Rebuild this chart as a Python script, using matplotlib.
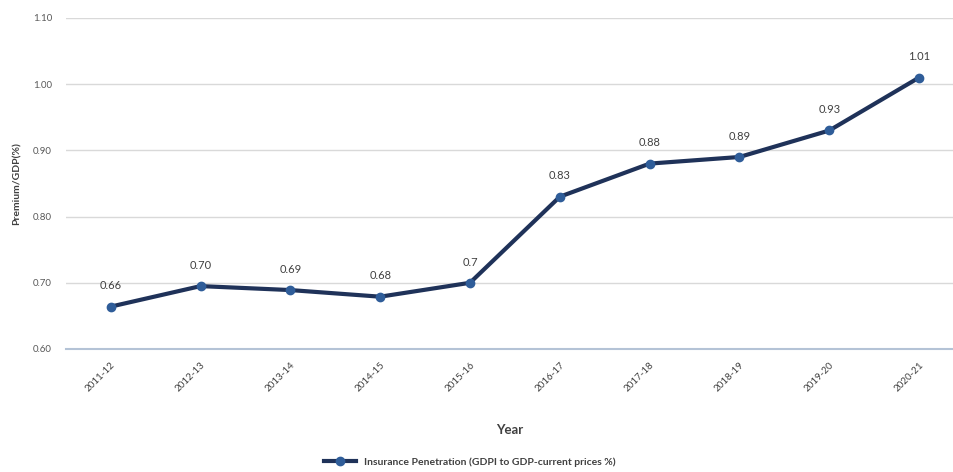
import matplotlib
matplotlib.use("Agg")
import matplotlib.pyplot as plt

years = ["2011-12", "2012-13", "2013-14", "2014-15", "2015-16",
         "2016-17", "2017-18", "2018-19", "2019-20", "2020-21"]
penetration = [0.664, 0.695, 0.689, 0.679, 0.70, 0.83, 0.88, 0.89, 0.93, 1.01]
point_labels = ["0.66", "0.70", "0.69", "0.68", "0.7", "0.83", "0.88", "0.89", "0.93", "1.01"]
yticks = [0.60, 0.70, 0.80, 0.90, 1.00, 1.10]

plt.rcParams['font.family'] = ['Lato', 'DejaVu Sans']

fig = plt.figure(figsize=(9.54, 4.72), dpi=100)
ax = fig.add_axes([0.069, 0.2606, 0.9415, 0.7014])

x = list(range(len(years)))
line, = ax.plot(x, penetration, color="#1f3259", linewidth=3.0, marker="o",
                markersize=6, markerfacecolor="#2f5d99", markeredgecolor="#2f5d99",
                label="Insurance Penetration (GDPI to GDP-current prices %)", zorder=3)

for xi, v, lab in zip(x, penetration, point_labels):
    ax.annotate(lab, (xi, v), xytext=(0, 11), textcoords="offset points",
                ha="center", va="bottom", fontsize=8, color="#404040")

ax.set_xlim(-0.5, len(years) - 0.5)
ax.set_ylim(0.60, 1.10)
ax.set_yticks(yticks)
ax.set_yticklabels([f"{t:.2f}" for t in yticks], fontsize=7, color="#595959")
ax.set_xticks(x)
ax.set_xticklabels(years, rotation=45, ha="right", rotation_mode="anchor",
                   fontsize=7, color="#404040")
ax.tick_params(axis="both", length=0, pad=10)
ax.tick_params(axis="x", pad=8)

ax.grid(axis="y", color="#d9d9d9", linewidth=1)
ax.set_axisbelow(True)
for s in ["top", "right", "left"]:
    ax.spines[s].set_visible(False)
ax.spines["bottom"].set_color("#b4c3d6")
ax.spines["bottom"].set_linewidth(1.5)

ax.set_ylabel("Premium/GDP(%)", fontsize=7.5, fontweight="bold", color="#404040", labelpad=8)
fig.text(510 / 954, 1 - 430 / 472, "Year", ha="center", va="center",
         fontsize=9.5, fontweight="bold", color="#404040")

leg = fig.legend(handles=[line], loc="center", bbox_to_anchor=(470 / 954, 1 - 462 / 472),
                 frameon=False, handlelength=3, prop={'weight': 'bold', 'size': 7.5})
for t in leg.get_texts():
    t.set_color("#404040")

fig.savefig("out.png", dpi=100)
